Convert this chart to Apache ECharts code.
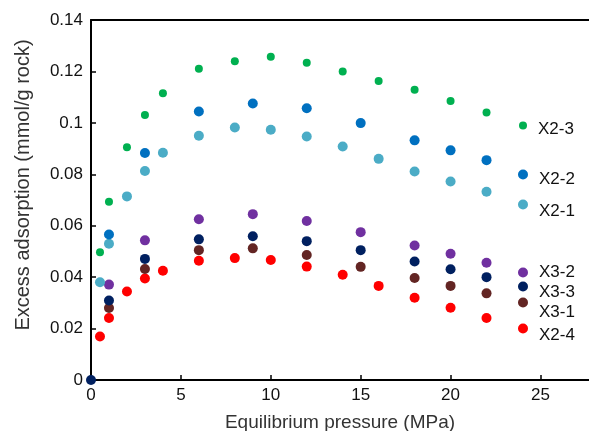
<!DOCTYPE html>
<html><head><meta charset="utf-8">
<script src="https://cdn.jsdelivr.net/npm/echarts@6/dist/echarts.min.js"></script>
<style>html,body{margin:0;padding:0;background:#fff}#c{width:589px;height:431px}</style>
</head><body><div id="c"></div>
<script>
const seriesNames = ['X2-3','X2-2','X2-1','X3-2','X3-3','X3-1','X2-4'];
const colors = ['#00B050','#0070C0','#4BACC6','#7030A0','#002060','#632523','#FF0000'];
const x23 = [[0.5,0.0497],[1,0.0693],[2,0.0905],[3,0.1031],[4,0.1115],[6,0.121],[8,0.124],[10,0.1257],[12,0.1234],[14,0.120],[16,0.1163],[18,0.1129],[20,0.1085],[22,0.104]];
const x22 = [[1,0.0566],[3,0.0883],[6,0.1044],[9,0.1075],[12,0.1057],[15,0.0999],[18,0.0932],[20,0.0893],[22,0.0855]];
const x21 = [[0.5,0.038],[1,0.053],[2,0.0714],[3,0.0813],[4,0.0884],[6,0.095],[8,0.0982],[10,0.0973],[12,0.0947],[14,0.0908],[16,0.086],[18,0.0811],[20,0.0772],[22,0.0732]];
const x32 = [[1,0.0371],[3,0.0543],[6,0.0625],[9,0.0645],[12,0.0618],[15,0.0575],[18,0.0523],[20,0.0491],[22,0.0456]];
const x33 = [[0,0],[1,0.0309],[3,0.0471],[6,0.0547],[9,0.0559],[12,0.054],[15,0.0505],[18,0.0461],[20,0.0431],[22,0.040]];
const x31 = [[1,0.028],[3,0.0432],[6,0.0505],[9,0.0512],[12,0.0486],[15,0.044],[18,0.0397],[20,0.0366],[22,0.0337]];
const x24 = [[0.5,0.0169],[1,0.0241],[2,0.0344],[3,0.0395],[4,0.0425],[6,0.0464],[8,0.0474],[10,0.0467],[12,0.0441],[14,0.0409],[16,0.0366],[18,0.032],[20,0.0281],[22,0.0241]];
const allData = [x23,x22,x21,x32,x33,x31,x24];
const xTicks = [0,5,10,15,20,25];
const yTicks = [0,0.02,0.04,0.06,0.08,0.1,0.12,0.14];

// legend layout: marker centre y, text offset (px)
const legendY = [127,176,206,274,288,304,330];
const legendD = [4,4.5,7,0,6,10,7];
const symSizes = [8,10,10,10,10,10,10];

const font = '"Liberation Sans", Arial, sans-serif';
const lh = 20;
const legends = seriesNames.map((n,i)=>{
  const d = legendD[i];
  const pt = d>0?2*d:0, pb = d<0?-2*d:0;
  const sz = symSizes[i];
  return {
    data:[n], orient:'vertical', icon:'circle', itemWidth:sz, itemHeight:sz,
    left: 523 - sz/2, top: legendY[i] - (lh+pt+pb)/2,
    padding:0, selectedMode:false,
    formatter: name => '{t|' + name + '}',
    textStyle:{fontFamily:font,fontSize:17,color:'#111',
      rich:{t:{fontFamily:font,fontSize:17,color:'#111',lineHeight:lh,padding:[pt,0,pb,6]}}}
  };
});

const chart = echarts.init(document.getElementById('c'));
chart.setOption({
  animation:false,
  backgroundColor:'#fff',
  grid:{left:91,right:0,top:20,bottom:51,containLabel:false,outerBoundsMode:'none'},
  legend: legends,
  xAxis:[{
    type:'value', min:0, max:27.7, interval:5,
    name:'Equilibrium pressure (MPa)', nameLocation:'middle', nameGap:33,
    nameTextStyle:{fontFamily:font,fontSize:19,color:'#333'},
    axisLine:{show:true,onZero:false,lineStyle:{color:'#000',width:2}},
    axisTick:{show:true,inside:true,length:5,lineStyle:{color:'#000',width:1.5}},
    axisLabel:{fontFamily:font,fontSize:17,color:'#111',margin:7,showMaxLabel:false,
      formatter:v=> xTicks.includes(v)? String(v):''},
    splitLine:{show:false}
  },{
    type:'value', position:'top', min:0, max:27.7,
    axisLine:{show:true,onZero:false,lineStyle:{color:'#000',width:2}},
    axisTick:{show:false}, axisLabel:{show:false}, splitLine:{show:false}
  }],
  yAxis:{
    type:'value', min:0, max:0.14, interval:0.02,
    name:'Excess adsorption (mmol/g rock)', nameLocation:'middle', nameGap:58,
    nameTextStyle:{fontFamily:font,fontSize:20,color:'#333',padding:[0,0,0,30]},
    axisLine:{show:true,onZero:false,lineStyle:{color:'#000',width:2}},
    axisTick:{show:true,inside:true,length:5,lineStyle:{color:'#000',width:1.5}},
    axisLabel:{fontFamily:font,fontSize:17,color:'#111',margin:8,
      formatter:v=> String(+v.toFixed(2))},
    splitLine:{show:false}
  },
  series: seriesNames.map((n,i)=>({
    name:n, type:'scatter', data:allData[i], symbol:'circle', symbolSize:symSizes[i],
    itemStyle:{color:colors[i],opacity:1}, clip:false, z: 10 - i
  }))
});
</script></body></html>
